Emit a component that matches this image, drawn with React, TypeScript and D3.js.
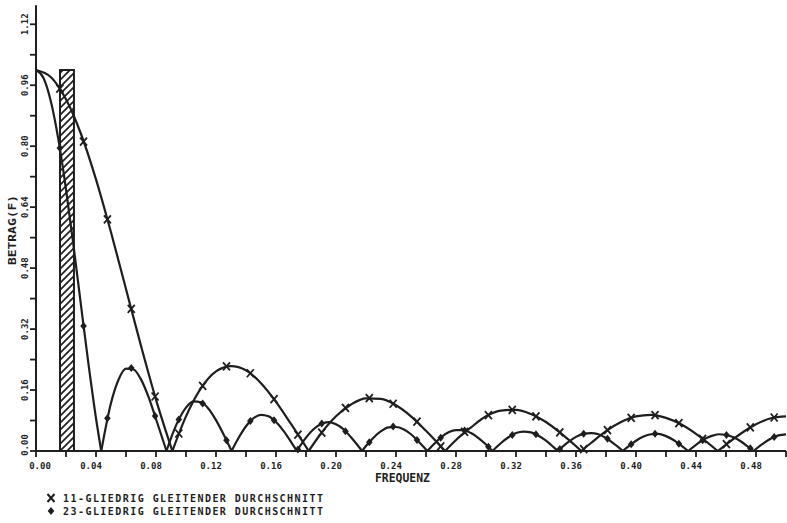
import React from "react";
import * as d3 from "d3";

// Betrag der Übertragungsfunktion
const freq11 = [
  0, 0.01, 0.02, 0.03, 0.04, 0.05, 0.06, 0.07, 0.08, 0.0909,
  0.1, 0.11, 0.12, 0.13, 0.14, 0.15, 0.16, 0.17, 0.1818,
  0.19, 0.2, 0.21, 0.22, 0.23, 0.24, 0.25, 0.26, 0.2727,
  0.28, 0.29, 0.3, 0.31, 0.32, 0.33, 0.34, 0.35, 0.3636,
  0.37, 0.38, 0.39, 0.4, 0.41, 0.42, 0.43, 0.44, 0.4545,
  0.46, 0.47, 0.48, 0.49, 0.5,
];
const mag11 = [
  1.0, 0.981, 0.923, 0.832, 0.713, 0.574, 0.425, 0.276, 0.135, 0,
  0.091, 0.165, 0.209, 0.223, 0.212, 0.178, 0.129, 0.071, 0,
  0.046, 0.091, 0.122, 0.138, 0.137, 0.12, 0.091, 0.053, 0,
  0.029, 0.062, 0.091, 0.106, 0.108, 0.097, 0.076, 0.046, 0,
  0.021, 0.052, 0.076, 0.091, 0.095, 0.087, 0.07, 0.045, 0,
  0.017, 0.046, 0.07, 0.086, 0.091,
];

const freq23 = [
  0, 0.005, 0.01, 0.015, 0.02, 0.025, 0.03, 0.035, 0.04, 0.0435,
  0.05, 0.055, 0.06, 0.065, 0.07, 0.075, 0.08, 0.087,
  0.09, 0.095, 0.1, 0.105, 0.11, 0.115, 0.12, 0.125, 0.1304,
  0.135, 0.14, 0.145, 0.15, 0.155, 0.16, 0.165, 0.17, 0.1739,
  0.18, 0.185, 0.19, 0.195, 0.2, 0.205, 0.21, 0.2174,
  0.22, 0.225, 0.23, 0.235, 0.24, 0.245, 0.25, 0.255, 0.2609,
  0.265, 0.27, 0.275, 0.28, 0.285, 0.29, 0.295, 0.3, 0.3043,
  0.31, 0.315, 0.32, 0.325, 0.33, 0.335, 0.34, 0.345, 0.3478,
  0.355, 0.36, 0.365, 0.37, 0.375, 0.38, 0.385, 0.3913,
  0.395, 0.4, 0.405, 0.41, 0.415, 0.42, 0.425, 0.43, 0.4348,
  0.44, 0.445, 0.45, 0.455, 0.46, 0.465, 0.47, 0.475, 0.4783,
  0.485, 0.49, 0.495, 0.5,
];
const mag23 = [
  1.0, 0.979, 0.916, 0.816, 0.687, 0.539, 0.382, 0.228, 0.086, 0,
  0.126, 0.187, 0.216, 0.214, 0.188, 0.142, 0.084, 0,
  0.034, 0.081, 0.114, 0.13, 0.128, 0.111, 0.081, 0.044, 0,
  0.034, 0.065, 0.086, 0.095, 0.091, 0.076, 0.053, 0.024, 0,
  0.035, 0.057, 0.071, 0.076, 0.07, 0.057, 0.036, 0,
  0.013, 0.035, 0.052, 0.062, 0.063, 0.057, 0.044, 0.025, 0,
  0.017, 0.036, 0.049, 0.055, 0.055, 0.047, 0.034, 0.017, 0,
  0.021, 0.036, 0.047, 0.051, 0.049, 0.04, 0.027, 0.01, 0,
  0.024, 0.037, 0.045, 0.047, 0.044, 0.034, 0.02, 0,
  0.012, 0.027, 0.038, 0.044, 0.045, 0.039, 0.029, 0.015, 0,
  0.016, 0.03, 0.039, 0.044, 0.042, 0.036, 0.025, 0.01, 0,
  0.02, 0.033, 0.041, 0.0435,
];

// Stützstellen mit Symbolen
const markerFreq = [
  0.0159, 0.0317, 0.0476, 0.0635, 0.0794, 0.0952, 0.1111, 0.127, 0.1429, 0.1587,
  0.1746, 0.1905, 0.2063, 0.2222, 0.2381, 0.254, 0.2698, 0.2857, 0.3016, 0.3175,
  0.3333, 0.3492, 0.3651, 0.381, 0.3968, 0.4127, 0.4286, 0.4444, 0.4603, 0.4762,
  0.4921,
];
const marker11 = [
  0.951, 0.812, 0.608, 0.373, 0.143, 0.046, 0.171, 0.222, 0.204, 0.136,
  0.043, 0.048, 0.113, 0.139, 0.124, 0.077, 0.012, 0.05, 0.094, 0.108,
  0.091, 0.049, 0.005, 0.055, 0.087, 0.094, 0.073, 0.032, 0.018, 0.062,
  0.088,
];
const marker23 = [
  0.795, 0.328, 0.086, 0.218, 0.092, 0.083, 0.125, 0.028, 0.079, 0.081,
  0.004, 0.072, 0.052, 0.023, 0.064, 0.029, 0.035, 0.054, 0.011, 0.042,
  0.044, 0.005, 0.045, 0.032, 0.018, 0.045, 0.019, 0.028, 0.042, 0.007,
  0.037,
];

// schraffiertes Band
const bandFreq = [0.016, 0.0253];
const bandTop = 1.0;

const xTickLabels = [0, 0.04, 0.08, 0.12, 0.16, 0.2, 0.24, 0.28, 0.32, 0.36, 0.4, 0.44, 0.48];
const yTickLabels = [0, 0.16, 0.32, 0.48, 0.64, 0.8, 0.96, 1.12];

const legend = [
  { symbol: "cross", text: "11-GLIEDRIG GLEITENDER DURCHSCHNITT" },
  { symbol: "diamond", text: "23-GLIEDRIG GLEITENDER DURCHSCHNITT" },
];

const INK = "#1e1e1e";
const FONT = "'DejaVu Sans Mono', monospace";

// Kurve an den Nullstellen auftrennen, damit die Spitzen scharf bleiben
function lobes(f: number[], v: number[]) {
  const out: [number, number][][] = [];
  let cur: [number, number][] = [];
  f.forEach((fi, i) => {
    cur.push([fi, v[i]]);
    if (v[i] === 0 && cur.length > 1) {
      out.push(cur);
      cur = [[fi, v[i]]];
    }
  });
  if (cur.length > 1) out.push(cur);
  return out;
}

const crossPath = "M-3.5,-4L3.5,4M-3.5,4L3.5,-4";
const diamondPath = "M0,-4L3.3,0L0,4L-3.3,0Z";

export default function App() {
  const x = d3.scaleLinear().domain([0, 0.5]).range([36, 786]);
  const y = d3.scaleLinear().domain([0, 1]).range([451, 70]);

  const line = d3
    .line<[number, number]>()
    .x((d) => x(d[0]))
    .y((d) => y(d[1]))
    .curve(d3.curveMonotoneX);

  const fmt = d3.format(".2f");
  const xMinor = d3.range(0, 0.5001, 0.02);
  const yMinor = d3.range(0, 1.1201, 0.08);

  return (
    <svg
      width={787}
      height={523}
      style={{ position: "absolute", left: 0, top: 0, background: "#fff" }}
      fontFamily={FONT}
      fontWeight="bold"
    >
      <defs>
        <pattern id="hatch" patternUnits="userSpaceOnUse" width={7} height={7}>
          <path d="M-1,8L8,-1M-1,1L1,-1M6,8L8,6" stroke={INK} strokeWidth={1.7} />
        </pattern>
      </defs>

      {/* Band */}
      <rect
        x={x(bandFreq[0])}
        y={y(bandTop)}
        width={x(bandFreq[1]) - x(bandFreq[0])}
        height={y(0) - y(bandTop)}
        fill="url(#hatch)"
        stroke={INK}
        strokeWidth={2}
      />

      {/* Achsen */}
      <line x1={x(0)} x2={786} y1={y(0)} y2={y(0)} stroke={INK} strokeWidth={2} />
      <line x1={x(0)} x2={x(0)} y1={y(0)} y2={y(1.17)} stroke={INK} strokeWidth={2} />
      {xMinor.map((t) => (
        <line key={t} x1={x(t)} x2={x(t)} y1={y(0)} y2={y(0) + 6} stroke={INK} strokeWidth={1.8} />
      ))}
      {yMinor.map((t) => (
        <line key={t} x1={x(0) - 6} x2={x(0)} y1={y(t)} y2={y(t)} stroke={INK} strokeWidth={1.8} />
      ))}
      {xTickLabels.map((t) => (
        <text
          key={t}
          x={x(t) + (t === 0 ? 4 : -5)}
          y={469}
          fontSize={9}
          textAnchor="middle"
          fill={INK}
        >
          {fmt(t)}
        </text>
      ))}
      {yTickLabels.map((t) => (
        <text
          key={t}
          transform={`translate(28,${y(t) - (t === 0 ? 6 : 0)}) rotate(-90)`}
          fontSize={9}
          textAnchor="middle"
          fill={INK}
        >
          {fmt(t)}
        </text>
      ))}
      <text x={375} y={482} fontSize={11.5} fill={INK} textLength={55} lengthAdjust="spacingAndGlyphs">
        FREQUENZ
      </text>
      <text
        transform="translate(16,230) rotate(-90)"
        fontSize={10}
        textAnchor="middle"
        fill={INK}
        textLength={70}
        lengthAdjust="spacingAndGlyphs"
      >
        BETRAG(F)
      </text>

      {/* Kurven */}
      <g fill="none" stroke={INK} strokeWidth={2.2} strokeLinejoin="round">
        {lobes(freq11, mag11).map((s, i) => (
          <path key={"a" + i} d={line(s) || ""} />
        ))}
        {lobes(freq23, mag23).map((s, i) => (
          <path key={"b" + i} d={line(s) || ""} />
        ))}
      </g>
      {markerFreq.map((f, i) => (
        <path
          key={"x" + i}
          transform={`translate(${x(f)},${y(marker11[i])})`}
          d={crossPath}
          stroke={INK}
          strokeWidth={1.8}
          fill="none"
        />
      ))}
      {markerFreq.map((f, i) => (
        <path
          key={"d" + i}
          transform={`translate(${x(f)},${y(marker23[i])})`}
          d={diamondPath}
          fill={INK}
        />
      ))}

      {/* Legende */}
      {legend.map((l, i) => (
        <g key={l.text} transform={`translate(0,${502 + i * 13})`}>
          <path
            transform="translate(51,-4)"
            d={l.symbol === "cross" ? crossPath : diamondPath}
            stroke={INK}
            strokeWidth={l.symbol === "cross" ? 2 : 0}
            fill={l.symbol === "cross" ? "none" : INK}
          />
          <text x={63} y={0} fontSize={10} fill={INK} textLength={260} lengthAdjust="spacing">
            {l.text}
          </text>
        </g>
      ))}
    </svg>
  );
}
